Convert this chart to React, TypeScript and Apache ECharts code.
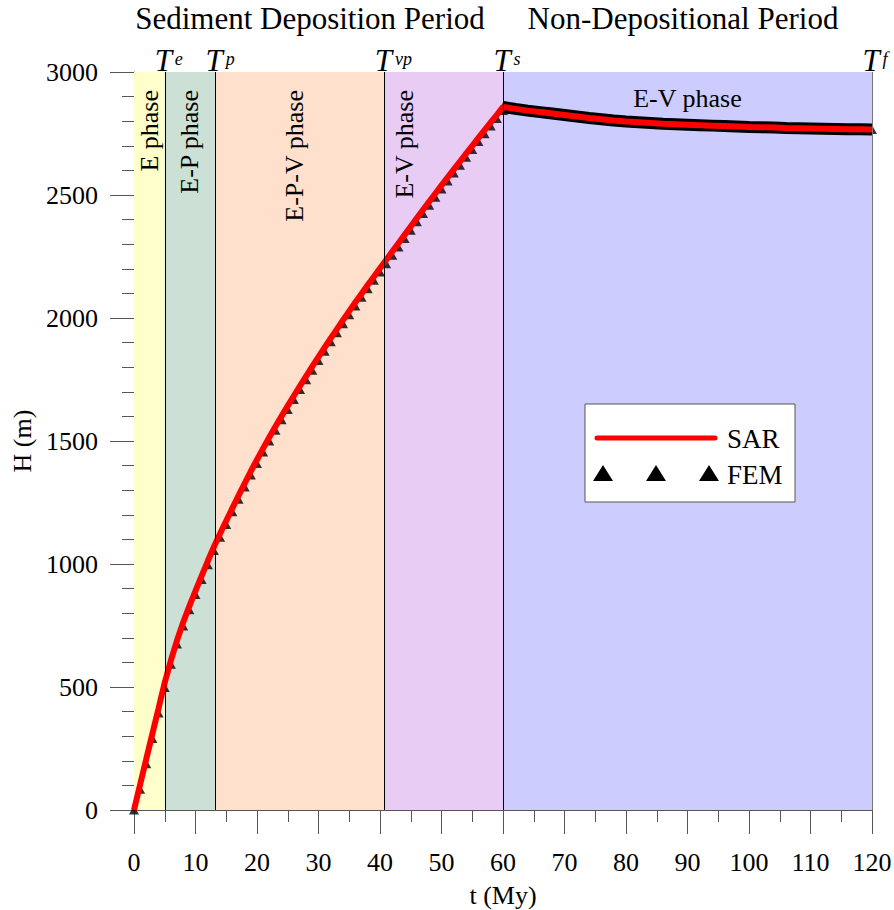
import React, { useEffect, useRef } from "react";
import * as echarts from "echarts";

// ---------- data ----------
const timeDeposition = [
  0, 1, 2, 3, 4, 5, 6, 7, 8, 9, 10, 11, 12, 13, 14, 15, 16, 17, 18, 19, 20,
  21, 22, 23, 24, 25, 26, 27, 28, 29, 30, 31, 32, 33, 34, 35, 36, 37, 38, 39, 40,
  41, 42, 43, 44, 45, 46, 47, 48, 49, 50, 51, 52, 53, 54, 55, 56, 57, 58, 59, 60,
];
const sarDeposition = [
  0, 104, 208, 311, 414, 518, 608, 690, 763, 829, 891, 952, 1012, 1070, 1124, 1176, 1227, 1278, 1328, 1377, 1424,
  1470, 1515, 1559, 1601, 1643, 1684, 1724, 1764, 1803, 1842, 1880, 1918, 1955, 1992, 2028, 2064, 2099, 2134, 2168, 2202,
  2236, 2270, 2304, 2338, 2372, 2406, 2440, 2473, 2506, 2539, 2572, 2604, 2636, 2668, 2700, 2732, 2764, 2795, 2826, 2858,
];
const femDeposition = [
  0, 84, 188, 291, 394, 498, 592, 675, 748, 814, 876, 937, 997, 1055, 1109, 1161, 1212, 1263, 1313, 1362, 1409,
  1455, 1500, 1544, 1586, 1628, 1669, 1709, 1749, 1788, 1827, 1865, 1903, 1940, 1977, 2013, 2049, 2084, 2119, 2153, 2187,
  2221, 2255, 2289, 2323, 2357, 2391, 2425, 2458, 2491, 2524, 2557, 2589, 2621, 2653, 2685, 2717, 2749, 2780, 2811, 2843,
];
const timePost = [
  60, 62, 64, 66, 68, 70, 72, 74, 76, 78, 80, 82, 84, 86, 88, 90,
  92, 94, 96, 98, 100, 102, 104, 106, 108, 110, 112, 114, 116, 118, 120,
];
const sarPost = [
  2858, 2850, 2843, 2837, 2831, 2825, 2819, 2813, 2808, 2803, 2799, 2796, 2793, 2790, 2788, 2786,
  2784, 2782, 2780, 2778, 2776, 2775, 2774, 2772, 2771, 2770, 2769, 2768, 2767, 2767, 2766,
];
const femPost = [
  2858, 2850, 2843, 2837, 2831, 2825, 2819, 2813, 2808, 2803, 2799, 2796, 2793, 2790, 2788, 2786,
  2784, 2782, 2780, 2778, 2776, 2775, 2774, 2772, 2771, 2770, 2769, 2768, 2767, 2767, 2766,
];
const phaseBounds = [0, 5, 13.2, 40.7, 60, 120];
const phaseNames = ["E phase", "E-P phase", "E-P-V phase", "E-V phase", "E-V phase"];
const boundarySup = ["e", "p", "vp", "s", "f"];
const periodTitles = ["Sediment Deposition Period", "Non-Depositional Period"];
const seriesNames = ["SAR", "FEM"];

// ---------- styles ----------
const F = "Liberation Serif";
const phaseColors = ["#FFFFCC", "#CCE0D6", "#FFE0CC", "#E9CCF3", "#CCCCFF"];
const phaseLabelOffsets = [0, 0, -5, -39, 0];
const supOffsets = [4, 5, 9, 4, 3];

const pairs = (xs: number[], ys: number[]) => xs.map((x, i) => [x, ys[i]]);

export default function App() {
  const ref = useRef<HTMLDivElement>(null);
  useEffect(() => {
    if (!ref.current) return;
    const chart = echarts.init(ref.current, undefined, { renderer: "svg" });

    const areaData = phaseNames.map((name, i) => {
      const vertical = i < 4;
      return [
        {
          xAxis: phaseBounds[i],
          name,
          itemStyle: { color: phaseColors[i] },
          label: vertical
            ? {
                show: true,
                position: "insideTop",
                rotate: 90,
                align: "right",
                verticalAlign: "middle",
                distance: 18,
                offset: [0, phaseLabelOffsets[i]],
                fontSize: 26,
                fontFamily: F,
                color: "#000",
              }
            : {
                show: true,
                position: "insideTop",
                distance: 13,
                fontSize: 26,
                fontFamily: F,
                color: "#000",
              },
        },
        { xAxis: phaseBounds[i + 1] },
      ];
    });

    const lineData = phaseBounds.slice(1).map((b, i) => ({
      xAxis: b,
      lineStyle: { color: i === 4 ? "#777" : "#000", width: 1, type: "solid" },
      label: {
        show: true,
        position: "end",
        distance: -4,
        offset: [supOffsets[i], 0],
        formatter: `{t|T}{s|${boundarySup[i]}}`,
        rich: {
          t: { fontSize: 31, fontStyle: "italic", fontFamily: F, color: "#000", lineHeight: 31 },
          s: { fontSize: 18, fontStyle: "italic", fontFamily: F, color: "#000", verticalAlign: "top", lineHeight: 18, padding: [5, 0, 0, 3] },
        },
      },
    }));

    const legendZ = 100;
    const option: any = {
      animation: false,
      backgroundColor: "#fff",
      textStyle: { fontFamily: F },
      grid: { left: 134, right: 22, top: 72, bottom: 100, containLabel: false, outerBoundsMode: "none" },
      xAxis: {
        type: "value",
        min: 0,
        max: 120,
        interval: 10,
        name: "t (My)",
        nameLocation: "middle",
        nameGap: 72,
        nameTextStyle: { fontSize: 26, color: "#000", fontFamily: F },
        axisLine: { show: true, onZero: false, lineStyle: { color: "#555", width: 1 } },
        axisTick: { show: true, inside: false, length: 24, lineStyle: { color: "#555" } },
        minorTick: { show: true, splitNumber: 2, length: 12, lineStyle: { color: "#555" } },
        splitLine: { show: false },
        axisLabel: { fontSize: 26, color: "#000", margin: 39, fontFamily: F, formatter: (v: number) => String(v) },
      },
      yAxis: {
        type: "value",
        min: 0,
        max: 3000,
        interval: 500,
        name: "H (m)",
        nameLocation: "middle",
        nameGap: 96,
        nameTextStyle: { fontSize: 26, color: "#000", fontFamily: F },
        axisLine: { show: true, onZero: false, lineStyle: { color: "#555", width: 1 } },
        axisTick: { show: true, inside: false, length: 24, lineStyle: { color: "#555" } },
        minorTick: { show: true, splitNumber: 5, length: 12, lineStyle: { color: "#555" } },
        splitLine: { show: false },
        axisLabel: { fontSize: 26, color: "#000", margin: 36, fontFamily: F, formatter: (v: number) => String(v) },
      },
      series: [
        {
          name: "phases",
          type: "line",
          data: [],
          silent: true,
          z: 1,
          markArea: { silent: true, data: areaData },
          markLine: { silent: true, symbol: ["none", "none"], data: lineData },
        },
        {
          name: "FEM band",
          type: "line",
          data: pairs(timePost, femPost),
          showSymbol: false,
          silent: true,
          z: 2,
          lineStyle: { color: "#000", width: 12 },
        },
        {
          name: seriesNames[1],
          type: "scatter",
          data: pairs(timeDeposition, femDeposition).concat(pairs(timePost, femPost)),
          symbol: "triangle",
          symbolSize: [10, 9],
          itemStyle: { color: "#000" },
          z: 3,
        },
        {
          name: seriesNames[0],
          type: "line",
          data: pairs(timeDeposition, sarDeposition).concat(pairs(timePost.slice(1), sarPost.slice(1))),
          showSymbol: false,
          z: 4,
          lineStyle: { color: "#FF0000", width: 6 },
          itemStyle: { color: "#FF0000" },
        },
      ],
      graphic: [
        {
          type: "text",
          x: 310,
          y: 18,
          style: { text: periodTitles[0], font: `31px '${F}'`, fill: "#000", textAlign: "center", textVerticalAlign: "middle" },
        },
        {
          type: "text",
          x: 683,
          y: 18,
          style: { text: periodTitles[1], font: `31px '${F}'`, fill: "#000", textAlign: "center", textVerticalAlign: "middle" },
        },
        { type: "rect", z: legendZ, shape: { x: 585, y: 404, width: 210, height: 98 }, style: { fill: "#fff", stroke: "#555", lineWidth: 1 } },
        { type: "line", z: legendZ + 1, shape: { x1: 597, y1: 438, x2: 715, y2: 438 }, style: { stroke: "#FF0000", lineWidth: 5, lineCap: "round" } },
        { type: "text", z: legendZ + 1, x: 727, y: 439, style: { text: seriesNames[0], font: `27px '${F}'`, fill: "#000", textVerticalAlign: "middle" } },
        { type: "polygon", z: legendZ + 1, shape: { points: [[593, 481], [603, 465], [613, 481]] }, style: { fill: "#000" } },
        { type: "polygon", z: legendZ + 1, shape: { points: [[646, 481], [656, 465], [666, 481]] }, style: { fill: "#000" } },
        { type: "polygon", z: legendZ + 1, shape: { points: [[699, 481], [709, 465], [719, 481]] }, style: { fill: "#000" } },
        { type: "text", z: legendZ + 1, x: 727, y: 475, style: { text: seriesNames[1], font: `27px '${F}'`, fill: "#000", textVerticalAlign: "middle" } },
      ],
    };
    chart.setOption(option);
    return () => chart.dispose();
  }, []);
  return <div ref={ref} style={{ position: "absolute", left: 0, top: 0, width: 894, height: 910 }} />;
}
